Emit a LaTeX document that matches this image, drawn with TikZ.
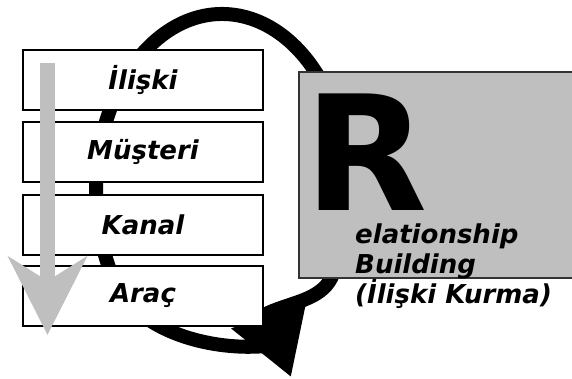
\documentclass[tikz,border=0pt]{standalone}
\usepackage{fontspec}
\setmainfont{DejaVu Sans}
\usetikzlibrary{arrows.meta}

\tikzset{
  stepbox/.style={draw=black, line width=1.3pt, fill=white, minimum width=240pt,
    minimum height=60pt, inner sep=0pt, font=\fontsize{26}{30}\selectfont\bfseries\itshape},
  cycleline/.style={line width=14pt, black, line join=round, -{Triangle[length=66pt,width=76pt]}},
  downarrow/.style={line width=15pt, black!25, -{Stealth[length=78pt,width=78pt,inset=24pt]}}
}

\begin{document}
\begin{tikzpicture}[x=1pt,y=-1pt]
            \useasboundingbox (0,0) rectangle (572,378);
            %loop behind everything
            \draw[cycleline] (280,344) .. controls (228,354) and (138,338) .. (113,278)
                arc[start angle=150, end angle=390, x radius=126, y radius=176]
                .. controls (320,300) and (292,302) .. (268,313) -- (291,377);
            %steps
            \node[stepbox] (iliski) at (143,80) {İlişki};
            \node[stepbox] (musteri) at (143,152) {Müşteri};
            \node[stepbox] (kanal) at (143,225) {Kanal};
            \node[stepbox] (arac) at (143,296) {Araç};
            %R box
            \draw[draw=black!80, line width=1.2pt, fill=black!25] (299,72) rectangle (590,278);
            \node[anchor=base west, inner sep=0pt, font=\fontsize{160}{160}\selectfont\bfseries] (bigr) at (304,210) {R};
            \node[anchor=north west, inner sep=0pt, align=left,
                font=\fontsize{26}{30}\selectfont\bfseries\itshape] (rtext) at (355,224)
                {elationship\\Building\\(İlişki Kurma)};
            %order arrow
            \draw[downarrow] (47.5,63) -- (47.5,335);
\end{tikzpicture}
\end{document}
